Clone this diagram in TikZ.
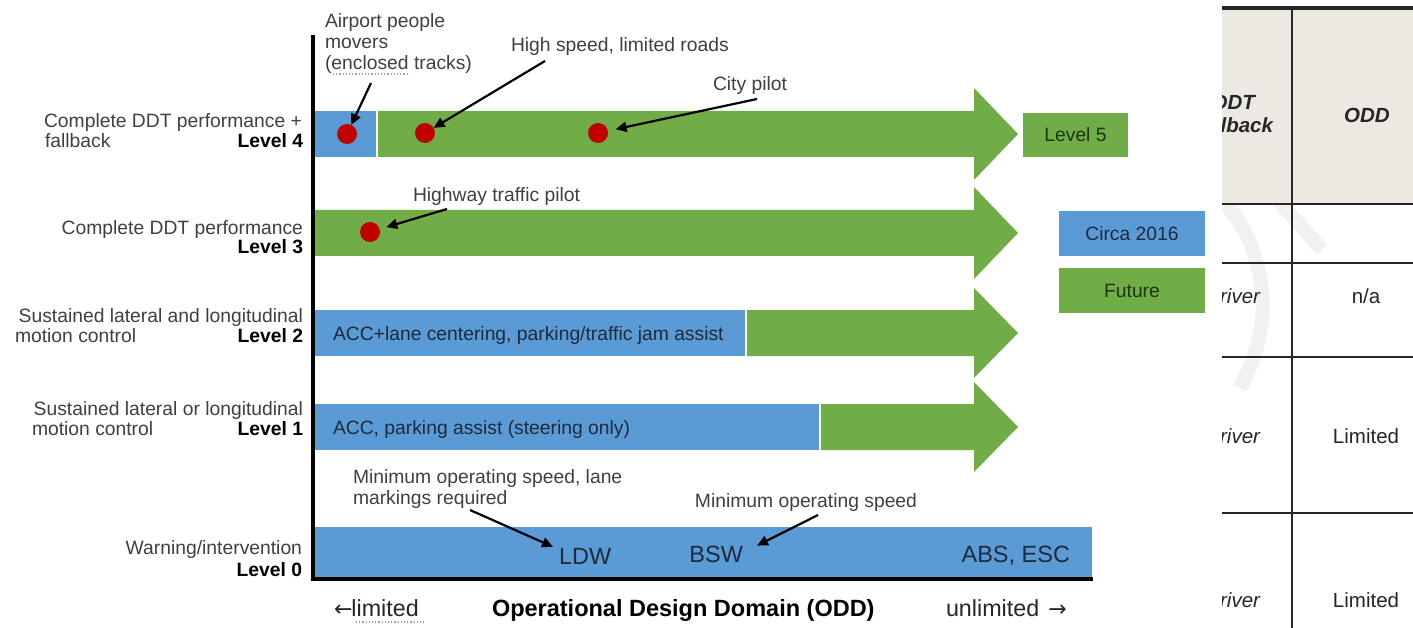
\documentclass[tikz,border=0pt]{standalone}
\usepackage{fontspec}
\setmainfont{Liberation Sans}
\newfontfamily\arrowfont{DejaVu Sans}
\usetikzlibrary{arrows.meta}
\definecolor{myblue}{HTML}{5B9BD5}
\definecolor{mygreen}{HTML}{70AD47}
\definecolor{dotred}{HTML}{C00000}
\definecolor{txtgray}{HTML}{404040}
\definecolor{navytxt}{HTML}{1F2A3C}
\definecolor{greentxt}{HTML}{1E3312}
\definecolor{tblbg}{HTML}{EBE9E2}
\definecolor{wmark}{HTML}{F1F1F1}
\definecolor{squigc}{HTML}{8FB08F}
\begin{document}
\begin{tikzpicture}[x=1pt,y=-1pt,
  base/.style={inner sep=0pt, outer sep=0pt},
  lbl/.style={base, font=\fontsize{19.3}{21}\selectfont, text=txtgray},
  lvl/.style={base, font=\fontsize{19.3}{21}\selectfont\bfseries, text=black},
  intxt/.style={base, font=\fontsize{19.3}{21}\selectfont, text=navytxt},
  bigtxt/.style={base, font=\fontsize{23.5}{26}\selectfont, text=navytxt},
  axtxt/.style={base, font=\fontsize{23.3}{26}\selectfont, text=black!85},
  dot/.style={circle, fill=dotred, minimum size=20pt, inner sep=0pt, outer sep=0pt},
  annarrow/.style={line width=2.2pt, -{Triangle[length=11pt,width=10pt]}},
  legbox/.style={minimum width=146pt, minimum height=45pt, inner sep=0pt, font=\fontsize{19.3}{21}\selectfont},
  tbl/.style={base, font=\fontsize{20.5}{23}\selectfont, text=black!85},
  tblline/.style={line width=2pt, black!85},
  squig/.style={squigc, line width=1.2pt, dotted},
]
\useasboundingbox (0,0) rectangle (1413,628);
\fill[white] (0,0) rectangle (1413,628);

% ---------------- table (clipped) ----------------
\begin{scope}
\clip (1222,0) rectangle (1413,628);
\draw[wmark, line width=14pt] (1226,205) .. controls (1252,232) and (1266,280) .. (1262,320);
\draw[wmark, line width=14pt] (1262,320) .. controls (1259,345) and (1252,365) .. (1240,388);
\draw[wmark, line width=14pt] (1278,200) -- (1322,250);
\fill[tblbg] (1222,8) rectangle (1413,204);
\draw[line width=3.5pt, black!85] (1222,8) -- (1413,8);
\draw[tblline] (1292,8) -- (1292,628);
\draw[tblline] (1222,204) -- (1413,204);
\draw[tblline] (1222,263) -- (1413,263);
\draw[tblline] (1222,357) -- (1413,357);
\draw[tblline] (1222,513) -- (1413,513);
\node[tbl, anchor=base east, font=\fontsize{20.5}{23}\selectfont\bfseries\itshape] (h1) at (1255,110) {DDT};
\node[tbl, anchor=base east, font=\fontsize{20.5}{23}\selectfont\bfseries\itshape] (h2) at (1273,133) {fallback};
\node[tbl, anchor=base, font=\fontsize{20.5}{23}\selectfont\bfseries\itshape] (h3) at (1367,123) {ODD};
\node[tbl, anchor=base east, font=\fontsize{20.5}{23}\selectfont\itshape] (r1a) at (1260,303) {Driver};
\node[tbl, anchor=base] (r1b) at (1366,303) {n/a};
\node[tbl, anchor=base east, font=\fontsize{20.5}{23}\selectfont\itshape] (r2a) at (1260,443) {Driver};
\node[tbl, anchor=base] (r2b) at (1366,443) {Limited};
\node[tbl, anchor=base east, font=\fontsize{20.5}{23}\selectfont\itshape] (r3a) at (1260,607) {Driver};
\node[tbl, anchor=base] (r3b) at (1366,607) {Limited};
\end{scope}

% ---------------- bands ----------------
\fill[myblue] (315,111) rectangle (376,157);
\fill[mygreen] (378,111) -- (974,111) -- (974,88) -- (1018,134) -- (974,180) -- (974,157) -- (378,157) -- cycle;
\fill[mygreen] (315,210) -- (974,210) -- (974,187) -- (1018,233) -- (974,279) -- (974,256) -- (315,256) -- cycle;
\fill[myblue] (315,310) rectangle (745,356);
\fill[mygreen] (747,310) -- (974,310) -- (974,288) -- (1018,333) -- (974,378) -- (974,356) -- (747,356) -- cycle;
\fill[myblue] (315,404) rectangle (819,450);
\fill[mygreen] (821,404) -- (974,404) -- (974,382) -- (1018,427) -- (974,472) -- (974,450) -- (821,450) -- cycle;
\fill[myblue] (315,527) rectangle (1092,577);

% ---------------- axes ----------------
\draw[line width=4pt] (313,35) -- (313,581);
\draw[line width=4pt] (311,579) -- (1093,579);

% ---------------- left labels ----------------
\node[lbl, anchor=base east] (l4a) at (302,128) {Complete DDT performance +};
\node[lbl, anchor=base west] (l4b) at (45,148) {fallback};
\node[lvl, anchor=base east] (l4c) at (303,148) {Level 4};
\node[lbl, anchor=base east] (l3a) at (303,235) {Complete DDT performance};
\node[lvl, anchor=base east] (l3b) at (303,254) {Level 3};
\node[lbl, anchor=base east] (l2a) at (303,322) {Sustained lateral and longitudinal};
\node[lbl, anchor=base west] (l2b) at (15,342) {motion control};
\node[lvl, anchor=base east] (l2c) at (303,342) {Level 2};
\node[lbl, anchor=base east] (l1a) at (303,415) {Sustained lateral or longitudinal};
\node[lbl, anchor=base west] (l1b) at (32,435) {motion control};
\node[lvl, anchor=base east] (l1c) at (303,435) {Level 1};
\node[lbl, anchor=base east] (l0a) at (302,554) {Warning/intervention};
\node[lvl, anchor=base east] (l0b) at (302,576) {Level 0};

% ---------------- band texts ----------------
\node[intxt, anchor=base west] (t2) at (333,340) {ACC+lane centering, parking/traffic jam assist};
\node[intxt, anchor=base west] (t1) at (333,434) {ACC, parking assist (steering only)};
\node[bigtxt, anchor=base west] (ldw) at (559,564) {LDW};
\node[bigtxt, anchor=base east] (bsw) at (743,562) {BSW};
\node[bigtxt, anchor=base east] (abs) at (1070,562) {ABS, ESC};

% ---------------- legend boxes ----------------
\node[legbox, fill=mygreen, minimum width=105pt, minimum height=44pt, text=greentxt] (lv5) at (1075.5,135) {Level 5};
\node[legbox, fill=myblue, text=navytxt] (circa) at (1132,233.5) {Circa 2016};
\node[legbox, fill=mygreen, text=greentxt] (future) at (1132,290.5) {Future};

% ---------------- annotations ----------------
\node[lbl, anchor=base west] (ap1) at (325,28) {Airport people};
\node[lbl, anchor=base west] (ap2) at (325,49) {movers};
\node[lbl, anchor=base west] (ap3) at (325,70) {(enclosed tracks)};
\draw[squig] (333,74) -- (407,74);
\node[lbl, anchor=base west] (hs) at (511,52) {High speed, limited roads};
\node[lbl, anchor=base west] (cp) at (713,91) {City pilot};
\node[lbl, anchor=base west] (hw) at (413,202) {Highway traffic pilot};
\node[lbl, anchor=base west] (ms1) at (353,483) {Minimum operating speed, lane};
\node[lbl, anchor=base west] (ms2) at (353,504) {markings required};
\node[lbl, anchor=base east] (ms3) at (917,507) {Minimum operating speed};

\node[dot] (d1) at (347,134) {};
\node[dot] (d2) at (425,133) {};
\node[dot] (d3) at (598,133) {};
\node[dot] (d4) at (370,232) {};

\coordinate (a1) at (371,83);
\coordinate (a2) at (545,61);
\coordinate (a3) at (757,99);
\coordinate (a4) at (447,209);
\coordinate (a5) at (470,510);
\coordinate (a6) at (818,515);
\draw[annarrow] (a1) -- (d1);
\draw[annarrow] (a2) -- (d2);
\draw[annarrow, shorten >=8pt] (a3) -- (d3);
\draw[annarrow, shorten >=7pt] (a4) -- (d4);
\draw[annarrow] (a5) -- ([shift={(-6,-1)}]ldw.north west);
\draw[annarrow] (a6) -- ([shift={(14,0)}]bsw.north east);

% ---------------- axis labels ----------------
\node[axtxt, anchor=base west] (lim) at (334,616) {{\arrowfont\fontsize{22}{26}\selectfont ←}\kern-1pt limited};
\draw[squig] (356,622) -- (424,622);
\node[axtxt, anchor=base west, text=black, font=\fontsize{23.5}{26}\selectfont\bfseries] (odd) at (492,616) {Operational Design Domain (ODD)};
\node[axtxt, anchor=base west] (unlim) at (946,616) {unlimited\hspace{9pt}{\arrowfont\fontsize{22}{26}\selectfont →}};
\end{tikzpicture}
\end{document}
